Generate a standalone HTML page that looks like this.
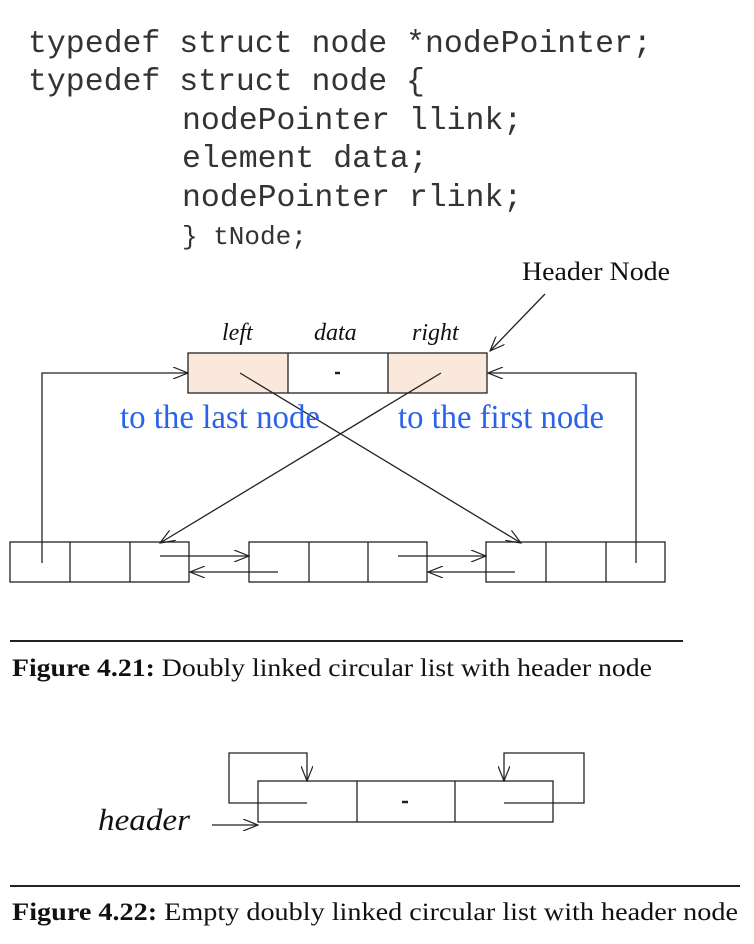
<!DOCTYPE html>
<html><head><meta charset="utf-8"><style>
body{margin:0;width:754px;height:944px;background:#fff;overflow:hidden}
</style></head><body>
<svg width="754" height="944" xmlns="http://www.w3.org/2000/svg" style="position:absolute;left:0;top:0">
<defs><marker id="a" markerWidth="16" markerHeight="12" refX="15" refY="6" orient="auto" markerUnits="userSpaceOnUse"><path d="M0,0 L15,6 L0,12" fill="none" stroke="#222" stroke-width="1.2"/></marker></defs>
<g font-family="Liberation Mono, monospace" font-size="31.5" fill="#333">
<text x="28" y="52">typedef struct node *nodePointer;</text>
<text x="28" y="90">typedef struct node {</text>
<text x="182" y="129">nodePointer llink;</text>
<text x="182" y="167">element data;</text>
<text x="182" y="206">nodePointer rlink;</text>
<text x="182" y="244" font-size="26">} tNode;</text>
</g>
<g font-family="Liberation Serif, serif" fill="#111">
<text x="522" y="280" font-size="26" textLength="148" lengthAdjust="spacingAndGlyphs">Header Node</text>
<text x="222" y="340" font-size="24" font-style="italic">left</text>
<text x="314" y="340" font-size="24" font-style="italic">data</text>
<text x="412" y="340" font-size="24" font-style="italic">right</text>
</g>
<rect x="188" y="353" width="100" height="40" fill="#fbe8dc"/>
<rect x="388" y="353" width="99" height="40" fill="#fbe8dc"/>
<g stroke="#222" stroke-width="1.3" fill="none">
<rect x="188" y="353" width="299" height="40"/>
<line x1="288" y1="353" x2="288" y2="393"/><line x1="388" y1="353" x2="388" y2="393"/>
<line x1="335" y1="373" x2="340" y2="373" stroke-width="2.5"/>
<rect x="10" y="542" width="179" height="40"/><line x1="70" y1="542" x2="70" y2="582"/><line x1="130" y1="542" x2="130" y2="582"/>
<rect x="249" y="542" width="178" height="40"/><line x1="309" y1="542" x2="309" y2="582"/><line x1="368" y1="542" x2="368" y2="582"/>
<rect x="486" y="542" width="179" height="40"/><line x1="546" y1="542" x2="546" y2="582"/><line x1="606" y1="542" x2="606" y2="582"/>
<polyline points="42,563 42,373 188,373" marker-end="url(#a)"/>
<polyline points="636,563 636,373 488,373" marker-end="url(#a)"/>
<line x1="545" y1="294" x2="490" y2="351" marker-end="url(#a)"/>
<line x1="240" y1="373" x2="521" y2="543" marker-end="url(#a)"/>
<line x1="441" y1="373" x2="160" y2="543" marker-end="url(#a)"/>
<line x1="160" y1="556" x2="249" y2="556" marker-end="url(#a)"/>
<line x1="278" y1="572" x2="190" y2="572" marker-end="url(#a)"/>
<line x1="398" y1="556" x2="486" y2="556" marker-end="url(#a)"/>
<line x1="515" y1="572" x2="428" y2="572" marker-end="url(#a)"/>
<line x1="10" y1="641" x2="683" y2="641" stroke-width="2"/>
<rect x="258" y="781" width="295" height="41"/><line x1="357" y1="781" x2="357" y2="822"/><line x1="455" y1="781" x2="455" y2="822"/>
<line x1="402" y1="802" x2="408" y2="802" stroke-width="2.5"/>
<polyline points="307,803 229,803 229,753 307,753 307,781" marker-end="url(#a)"/>
<polyline points="504,803 584,803 584,753 504,753 504,781" marker-end="url(#a)"/>
<line x1="212" y1="825" x2="258" y2="825" marker-end="url(#a)"/>
<line x1="10" y1="886" x2="740" y2="886" stroke-width="2"/>
</g>
<g font-family="Liberation Serif, serif" font-size="34" fill="#2a62e8">
<text x="120" y="428" textLength="200" lengthAdjust="spacingAndGlyphs">to the last node</text>
<text x="398" y="428" textLength="206" lengthAdjust="spacingAndGlyphs">to the first node</text>
</g>
<g font-family="Liberation Serif, serif" fill="#111">
<text x="98" y="830" font-size="31" font-style="italic" textLength="92" lengthAdjust="spacingAndGlyphs">header</text>
<text x="12" y="676" font-size="25" textLength="640" lengthAdjust="spacingAndGlyphs"><tspan font-weight="bold">Figure 4.21:</tspan> Doubly linked circular list with header node</text>
<text x="12" y="920" font-size="25" textLength="726" lengthAdjust="spacingAndGlyphs"><tspan font-weight="bold">Figure 4.22:</tspan> Empty doubly linked circular list with header node</text>
</g>
</svg>
</body></html>
